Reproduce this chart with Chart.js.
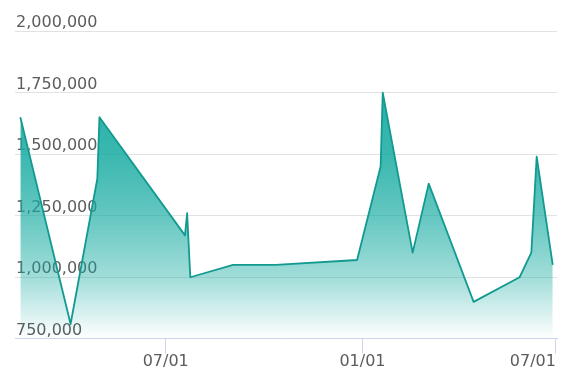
<!DOCTYPE html>
<html>
<head>
<meta charset="utf-8">
<script src="https://cdn.jsdelivr.net/npm/chart.js@4.4.1/dist/chart.umd.min.js"></script>
<style>
  html, body { margin: 0; padding: 0; background: #ffffff; }
  #wrap { width: 578px; height: 390px; }
</style>
</head>
<body>
<div id="wrap"><canvas id="c" width="578" height="390"></canvas></div>
<script>
// ---- data ----
const dates = [
  '2018-02-15', '2018-04-03', '2018-04-28', '2018-04-30', '2018-07-19',
  '2018-07-21', '2018-07-24', '2018-09-02', '2018-10-12', '2018-12-27',
  '2019-01-18', '2019-01-20', '2019-02-17', '2019-03-04', '2019-04-15',
  '2019-05-28', '2019-06-08', '2019-06-13', '2019-06-28'
];
const values = [
  1650000, 810000, 1400000, 1650000, 1170000,
  1260000, 1000000, 1050000, 1050000, 1070000,
  1450000, 1750000, 1100000, 1380000, 900000,
  1000000, 1100000, 1490000, 1050000
];
const xTickDates = ['2018-07-01', '2019-01-01', '2019-07-01'];
const xTickLabels = ['07/01', '01/01', '07/01'];
const yTickValues = [750000, 1000000, 1250000, 1500000, 1750000, 2000000];
const xRange = ['2018-02-10', '2019-07-02'];

// ---- helpers ----
const toMs = s => { const [y, m, d] = s.split('-').map(Number); return Date.UTC(y, m - 1, d); };
const points = dates.map((d, i) => ({ x: toMs(d), y: values[i] }));
const tickMs = xTickDates.map(toMs);

const lineColor = '#129a91';
const fillRGB = '20,170,160';

function areaGradient(ctx) {
  const chart = ctx.chart;
  const area = chart.chartArea;
  if (!area) return 'rgba(' + fillRGB + ',0.5)';
  const g = chart.ctx.createLinearGradient(0, area.top, 0, area.bottom);
  g.addColorStop(0, 'rgba(' + fillRGB + ',1)');
  g.addColorStop(0.4, 'rgba(' + fillRGB + ',0.84)');
  g.addColorStop(0.6, 'rgba(' + fillRGB + ',0.66)');
  g.addColorStop(0.8, 'rgba(' + fillRGB + ',0.4)');
  g.addColorStop(1, 'rgba(' + fillRGB + ',0)');
  return g;
}

// keep the last x label inside the canvas (right aligned to its tick)
const lastLabelAlign = {
  id: 'lastLabelAlign',
  beforeDraw(chart) {
    const sc = chart.scales.x;
    const items = sc.getLabelItems(chart.chartArea);
    if (items && items.length) {
      items[items.length - 1].options.textAlign = 'right';
    }
  }
};

Chart.defaults.font.family = "'DejaVu Sans', sans-serif";
Chart.defaults.font.size = 16;
Chart.defaults.color = '#5c5c5c';

new Chart(document.getElementById('c'), {
  type: 'line',
  data: {
    datasets: [{
      data: points,
      borderColor: lineColor,
      borderWidth: 1.8,
      borderJoinStyle: 'round',
      backgroundColor: areaGradient,
      fill: 'start',
      tension: 0,
      pointRadius: 0,
      pointHoverRadius: 0
    }]
  },
  options: {
    responsive: false,
    animation: false,
    events: [],
    layout: { padding: { left: 13, right: 21, top: 31, bottom: 21 } },
    plugins: { legend: { display: false }, tooltip: { enabled: false } },
    scales: {
      x: {
        type: 'linear',
        min: toMs(xRange[0]),
        max: toMs(xRange[1]),
        afterBuildTicks: scale => { scale.ticks = tickMs.map(v => ({ value: v })); },
        afterFit: scale => { scale.paddingRight = 0; },
        ticks: {
          autoSkip: false,
          maxRotation: 0,
          padding: -2,
          callback: (v) => { const i = tickMs.indexOf(v); return i >= 0 ? xTickLabels[i] : ''; }
        },
        grid: { drawOnChartArea: false, drawTicks: true, tickLength: 15, color: '#ccd6eb' },
        border: { display: true, color: '#ccd6eb', width: 1 }
      },
      y: {
        min: 750000,
        max: 2000000,
        afterBuildTicks: scale => { scale.ticks = yTickValues.map(v => ({ value: v })); },
        ticks: {
          mirror: true,
          padding: 1,
          labelOffset: -8,
          callback: v => Number(v).toLocaleString('en-US')
        },
        grid: { color: '#e2e2e2', drawTicks: false, lineWidth: 1 },
        border: { display: false }
      }
    }
  },
  plugins: [lastLabelAlign]
});
</script>
</body>
</html>
